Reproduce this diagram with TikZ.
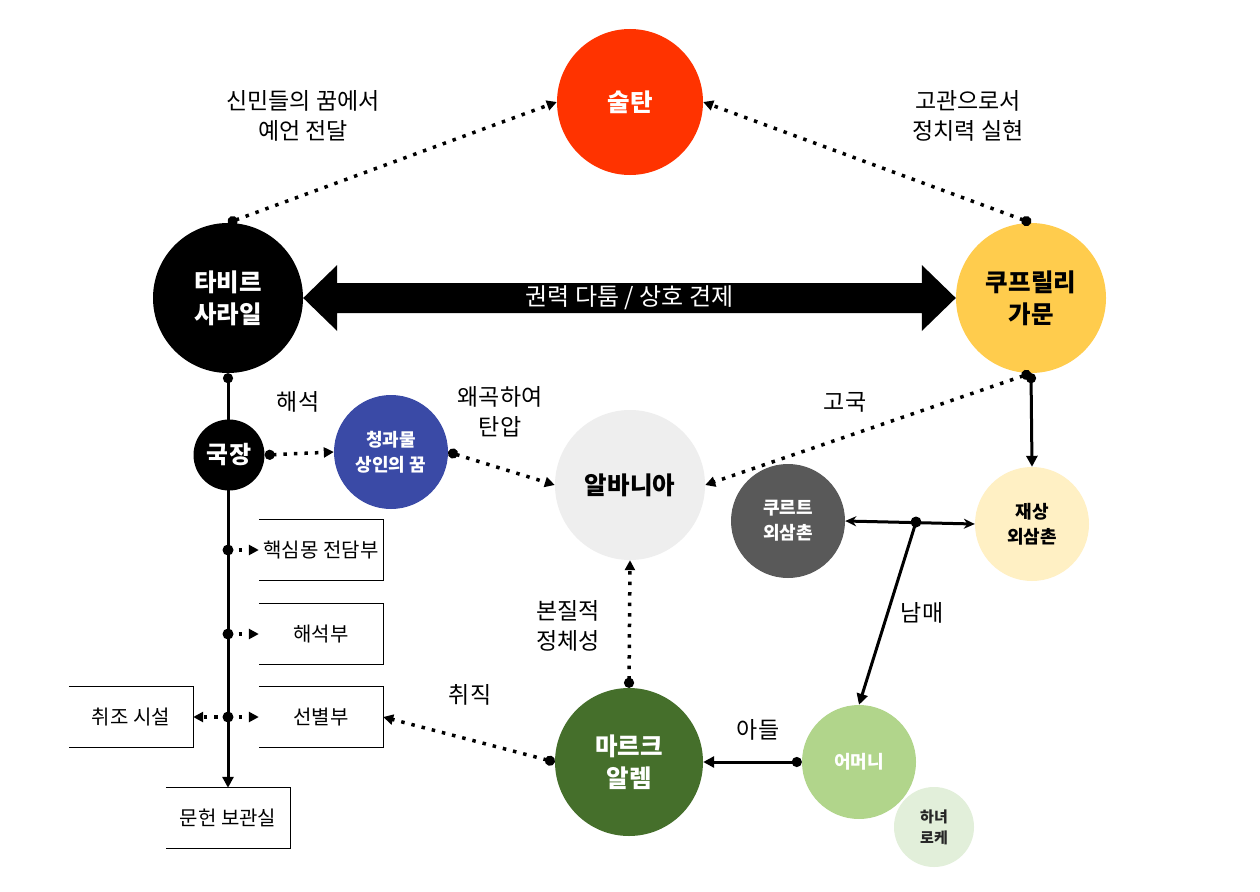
\documentclass[tikz,border=0pt]{standalone}
\usepackage{fontspec}
\setmainfont{Noto Sans CJK KR}
\usetikzlibrary{arrows.meta,calc}
\definecolor{csultan}{HTML}{FF3300}
\definecolor{ckup}{HTML}{FFCC4D}
\definecolor{cblue}{HTML}{3A4AA6}
\definecolor{calb}{HTML}{EEEEEE}
\definecolor{ckurt}{HTML}{595959}
\definecolor{cjae}{HTML}{FFF0C4}
\definecolor{cmark}{HTML}{456F2B}
\definecolor{ceom}{HTML}{B1D58B}
\definecolor{croke}{HTML}{E2EFDA}
\begin{document}
\begin{tikzpicture}[x=1pt,y=-1pt,
  bigc/.style={circle,inner sep=0pt,align=center,minimum size=150pt,font=\bfseries\fontsize{24.5}{32}\selectfont},
  smallc/.style={circle,inner sep=0pt,align=center,minimum size=114pt,font=\bfseries\fontsize{18}{25}\selectfont},
  lbl/.style={align=center,font=\fontsize{23}{30}\selectfont},
  boxn/.style={minimum width=124pt,minimum height=60pt,inner sep=0pt,font=\fontsize{20}{24}\selectfont},
  boxline/.style={line width=1.2pt},
  dotline/.style={line width=3.5pt,dash pattern=on 3.5pt off 7pt},
  dotarrow/.style={dotline,{Circle[length=10pt]}-{Triangle[length=10pt,width=10pt]}},
  dotarrowb/.style={dotline,-{Triangle[length=10pt,width=10pt]}},
  solidarrow/.style={line width=3pt,-{Triangle[length=11pt,width=11pt]}},
]
\useasboundingbox[fill=white] (0,0) rectangle (1260,891);

% circles
\node[bigc,fill=csultan,text=white,minimum size=146pt] (sul) at (630,102) {술탄};
\node[bigc,fill=black,text=white] (tab) at (228,298) {타비르\\사라일};
\node[bigc,fill=ckup,text=black] (kup) at (1031,298) {쿠프릴리\\가문};
\node[circle,inner sep=0pt,minimum size=71pt,fill=black,text=white,font=\bfseries\fontsize{24}{28}\selectfont] (guk) at (229,455) {국장};
\node[smallc,fill=cblue,text=white] (chg) at (391,452) {청과물\\상인의 꿈};
\node[bigc,fill=calb,text=black] (alb) at (630,485) {알바니아};
\node[smallc,fill=ckurt,text=white] (kur) at (788,521) {쿠르트\\외삼촌};
\node[smallc,fill=cjae,text=black] (jae) at (1032,524) {재상\\외삼촌};
\node[bigc,fill=cmark,text=white,minimum size=148pt] (mar) at (629,762) {마르크\\알렘};
\node[smallc,fill=ceom,text=white] (eom) at (859,762) {어머니};
\node[circle,inner sep=0pt,align=center,minimum size=80pt,fill=croke,text=black!85,font=\bfseries\fontsize{15}{21}\selectfont] (rok) at (934,827) {하녀\\로케};

% boxes
\node[boxn] (b1) at (321,550) {핵심몽 전담부};
\node[boxn] (b2) at (321,634) {해석부};
\node[boxn] (b3) at (321,717) {선별부};
\node[boxn] (chi) at (131,717) {취조 시설};
\node[boxn] (mun) at (228,818) {문헌 보관실};
\foreach \b in {b1,b2,b3,chi,mun}{
  \draw[boxline] (\b.north west) -- (\b.north east) -- (\b.south east) -- (\b.south west);
}

% big double arrow
\fill ($(tab.east)$) -- ($(tab.east)+(34,-33)$) -- ($(tab.east)+(34,-15)$)
  -- ($(kup.west)+(-34,-15)$) -- ($(kup.west)+(-34,-33)$) -- (kup.west)
  -- ($(kup.west)+(-34,33)$) -- ($(kup.west)+(-34,15)$)
  -- ($(tab.east)+(34,15)$) -- ($(tab.east)+(34,33)$) -- cycle;
\node[text=white,font=\fontsize{24}{28}\selectfont] (pw) at ($(tab.east)!0.5!(kup.west)$) {권력 다툼 / 상호 견제};

% vertical spine
\draw[line width=3pt,{Circle[length=10pt]}-{Triangle[length=11pt,width=11pt]}] (tab.south) -- (mun.north);
\coordinate (j1) at (228,550);
\coordinate (j2) at (228,634);
\coordinate (j3) at (228,717);
\foreach \j in {j1,j2,j3}{ \fill (\j) circle (5.5); }
\draw[dotarrowb] (j1) -- (b1.west);
\draw[dotarrowb] (j2) -- (b2.west);
\draw[dotarrowb] (j3) -- (b3.west);
\draw[dotarrowb] (j3) -- (chi.east);

% dotted connectors
\draw[dotarrow] (tab.north) -- (sul.west);
\draw[dotarrow] (kup.north) -- (sul.east);
\draw[dotarrow] (guk.east) -- (chg.west);
\draw[dotarrow] (chg.east) -- (alb.west);
\draw[dotarrow] (kup.south) -- (alb.east);
\draw[dotarrow] (mar.north) -- (alb.south);
\draw[dotarrow] (mar.west) -- (b3.east);

% solid connectors
\draw[solidarrow,{Circle[length=10pt]}-{Triangle[length=11pt,width=11pt]}] (kup.south) -- (jae.north);
\draw[solidarrow,{Circle[length=10pt]}-{Triangle[length=11pt,width=11pt]}] (eom.west) -- (mar.east);
\draw[line width=3pt,{Stealth[length=11pt,width=10pt]}-{Stealth[length=11pt,width=10pt]}] (kur.east) -- (jae.west);
\coordinate (m1) at (916,522);
\fill (m1) circle (5.5);
\draw[solidarrow] (m1) -- (eom.north);

% labels
\node[lbl] (l1) at (303,116) {신민들의 꿈에서\\예언 전달};
\node[lbl] (l2) at (968,116) {고관으로서\\정치력 실현};
\node[lbl] (l3) at (298,402) {해석};
\node[lbl] (l4) at (500,412) {왜곡하여\\탄압};
\node[lbl] (l5) at (845,402) {고국};
\node[lbl] (l6) at (568,626) {본질적\\정체성};
\node[lbl] (l7) at (470,695) {취직};
\node[lbl] (l8) at (758,730) {아들};
\node[lbl] (l9) at (922,613) {남매};
\end{tikzpicture}
\end{document}
